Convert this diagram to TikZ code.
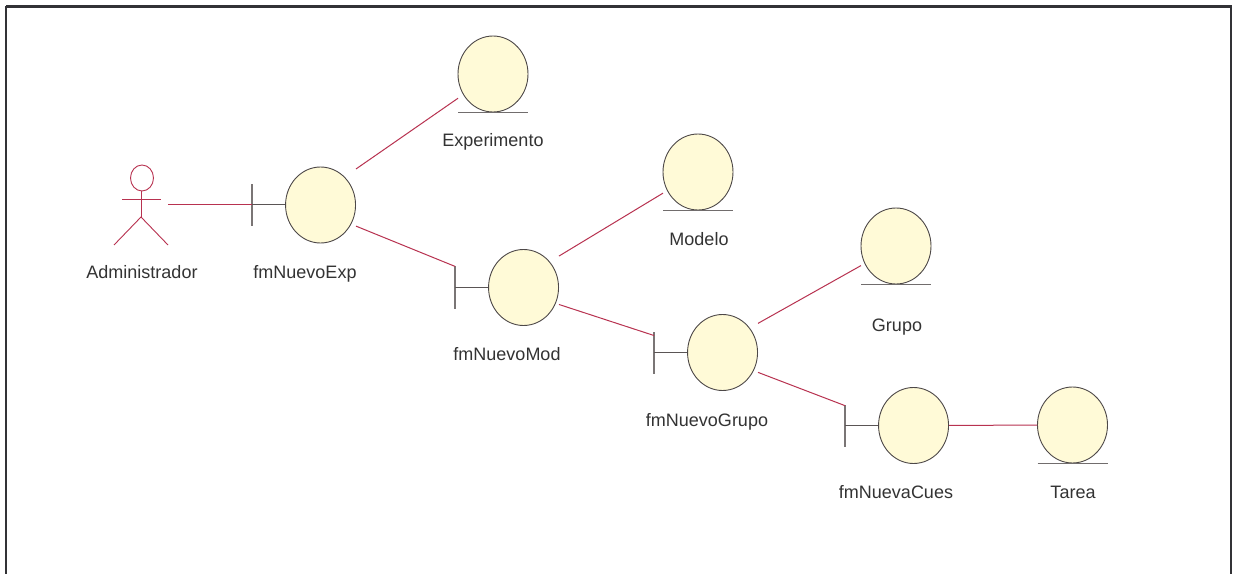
\documentclass[tikz,border=0pt]{standalone}
\usepackage{fontspec}
\setmainfont{Liberation Sans}
\usetikzlibrary{shapes.geometric,calc}
\newdimen\PX \PX=0.75pt
\definecolor{objfill}{HTML}{FFFAD7}
\definecolor{objedge}{HTML}{4D4848}
\definecolor{conn}{HTML}{B83250}
\definecolor{stubc}{HTML}{5A5555}
\definecolor{barc}{HTML}{7A7575}
\definecolor{framec}{HTML}{323236}
\definecolor{txt}{HTML}{333333}
\begin{document}
\begin{tikzpicture}[x=0.75pt,y=-0.75pt,
  obj/.style={ellipse, draw=objedge, fill=objfill, line width=0.9\PX, minimum width=70\PX, minimum height=76\PX, inner sep=0pt},
  bbox/.style={rectangle, draw=none, inner sep=0pt, outer sep=0pt, minimum width=104\PX, minimum height=76\PX},
  ebox/.style={rectangle, draw=none, inner sep=0pt, outer sep=0pt, minimum width=70\PX, minimum height=77\PX},
  abox/.style={rectangle, draw=none, inner sep=0pt, outer sep=0pt, minimum width=54\PX, minimum height=80\PX},
  lbl/.style={font=\fontsize{13.5pt}{16pt}\selectfont, text=txt, inner sep=0pt, anchor=base},
  conline/.style={draw=conn, line width=1\PX},
  barline/.style={draw=barc, line width=1.2\PX},
  stubline/.style={draw=stubc, line width=1\PX},
  underline/.style={draw=objedge!80, line width=1.2\PX},
  actorline/.style={draw=conn, line width=0.9\PX}
]
\useasboundingbox (0,0) rectangle (1236,574);
\fill[white] (0,0) rectangle (1236,574);
\draw[framec, line width=2.4\PX] (6,6.5) -- (1231,6.5) -- (1231,620) (6,6.5) -- (6,620);

% actor
\node[abox] (admin) at (141,205) {};
\draw[actorline] (142,178) ellipse [x radius=11.5, y radius=13];
\draw[actorline] (122,199) -- (161,199);
\draw[actorline] (141,191) -- (141,217);
\draw[actorline] (114,245) -- (141,217) -- (168,245);
\node[lbl] (adminL) at (142,278) {Administrador};

% boundary objects
\foreach \n/\cx/\cy in {fmexp/304/205, fmmod/507/287.5, fmgrp/706/352.5, fmcues/897/425.5}{
  \node[bbox] (\n) at (\cx,\cy) {};
  \draw[barline] ($(\n.west)+(0,-21\PX)$) -- ($(\n.west)+(0,21\PX)$);
  \node[obj, anchor=east] (\n-c) at (\n.east) {};
  \draw[stubline] (\n.west) -- (\n-c.west);
}
\node[lbl] (fmexpL) at (305,278) {fmNuevoExp};
\node[lbl] (fmmodL) at (507,360) {fmNuevoMod};
\node[lbl] (fmgrpL) at (707,426) {fmNuevoGrupo};
\node[lbl] (fmcuesL) at (896,498) {fmNuevaCues};

% entity objects
\foreach \n/\cx/\cy in {exp/493/74, mod/698/172, grp/896/246, tarea/1072.5/425}{
  \node[ebox] (\n) at (\cx,\cy) {};
  \node[obj] (\n-c) at (\cx,\cy) {};
  \draw[underline] ($(\n-c.south)+(-35\PX,0)$) -- ($(\n-c.south)+(35\PX,0)$);
}
\node[lbl] (expL) at (493,147) {Experimento};
\node[lbl] (modL) at (699,246) {Modelo};
\node[lbl] (grpL) at (897,331) {Grupo};
\node[lbl] (tareaL) at (1073,498) {Tarea};

% connectors
\draw[conline] (admin) -- (fmexp);
\draw[conline] (fmexp) -- (exp);
\draw[conline] (fmexp) -- (fmmod);
\draw[conline] (fmmod) -- (mod);
\draw[conline] (fmmod) -- (fmgrp);
\draw[conline] (fmgrp) -- (grp);
\draw[conline] (fmgrp) -- (fmcues);
\draw[conline] (fmcues-c) -- (tarea-c);
\end{tikzpicture}
\end{document}
